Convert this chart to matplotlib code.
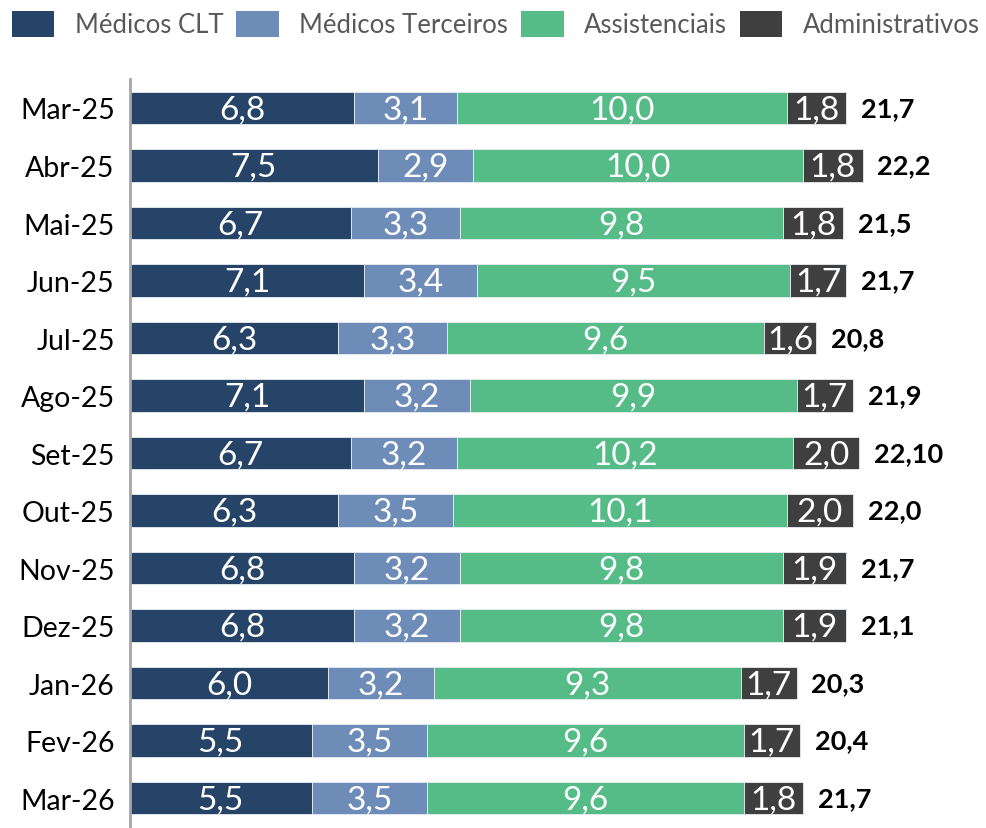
import matplotlib
matplotlib.use("Agg")
import matplotlib.pyplot as plt
from matplotlib.patches import Patch
import numpy as np

plt.rcParams['font.family'] = ['Lato', 'DejaVu Sans']

months = ["Mar-25", "Abr-25", "Mai-25", "Jun-25", "Jul-25", "Ago-25", "Set-25",
          "Out-25", "Nov-25", "Dez-25", "Jan-26", "Fev-26", "Mar-26"]

medicos_clt = [6.8, 7.5, 6.7, 7.1, 6.3, 7.1, 6.7, 6.3, 6.8, 6.8, 6.0, 5.5, 5.5]
medicos_terceiros = [3.1, 2.9, 3.3, 3.4, 3.3, 3.2, 3.2, 3.5, 3.2, 3.2, 3.2, 3.5, 3.5]
assistenciais = [10.0, 10.0, 9.8, 9.5, 9.6, 9.9, 10.2, 10.1, 9.8, 9.8, 9.3, 9.6, 9.6]
administrativos = [1.8, 1.8, 1.8, 1.7, 1.6, 1.7, 2.0, 2.0, 1.9, 1.9, 1.7, 1.7, 1.8]

total_labels = ["21,7", "22,2", "21,5", "21,7", "20,8", "21,9", "22,10",
                "22,0", "21,7", "21,1", "20,3", "20,4", "21,7"]

series = [
    ("Médicos CLT", medicos_clt, "#264468"),
    ("Médicos Terceiros", medicos_terceiros, "#6d8cb8"),
    ("Assistenciais", assistenciais, "#55bc88"),
    ("Administrativos", administrativos, "#3f3f3f"),
]

W, H = 986, 829
fig = plt.figure(figsize=(W / 100, H / 100), dpi=100)

# axes: left edge at the vertical axis line, top just under the legend
ax_left, ax_top, ax_bottom = 130, 80, 829
ax = fig.add_axes([ax_left / W, 1 - ax_bottom / H, 1 - ax_left / W, (ax_bottom - ax_top) / H])

y = np.arange(len(months))
left = np.zeros(len(months))
for name, vals, color in series:
    vals = np.array(vals)
    ax.barh(y, vals, left=left, height=0.56, color=color, edgecolor="#e8ecf2",
            linewidth=0.6, label=name)
    for yi, l, v in zip(y, left, vals):
        ax.text(l + v / 2, yi + 0.02, f"{v:.1f}".replace(".", ","), ha="center",
                va="center", color="white", fontsize=24)
    left += vals

for yi, tot, lab in zip(y, left, total_labels):
    ax.text(tot + 0.45, yi, lab, ha="left", va="center", color="black",
            fontsize=19.5, fontweight="bold")

ax.set_xlim(0, (W - ax_left) / 33.0)
ax.set_ylim(12.52, -0.504)
ax.set_yticks(y)
ax.set_yticklabels(months, fontsize=20.5, color="black")
ax.tick_params(axis="y", length=0, pad=11)
ax.set_xticks([])
for s in ["top", "right", "bottom"]:
    ax.spines[s].set_visible(False)
ax.spines["left"].set_color("#a6a6a6")
ax.spines["left"].set_linewidth(2)

handles = [Patch(facecolor=c, edgecolor="none") for _, _, c in series]
labels = [n for n, _, _ in series]
fig.legend(handles, labels, loc="center", bbox_to_anchor=(0.503, 1 - 25 / H),
           ncol=4, frameon=False, fontsize=18.5, labelcolor="#595959",
           handlelength=1.65, handleheight=1.2, handletextpad=0.8,
           columnspacing=0.5, borderpad=0)

fig.savefig("out.png", dpi=100)
